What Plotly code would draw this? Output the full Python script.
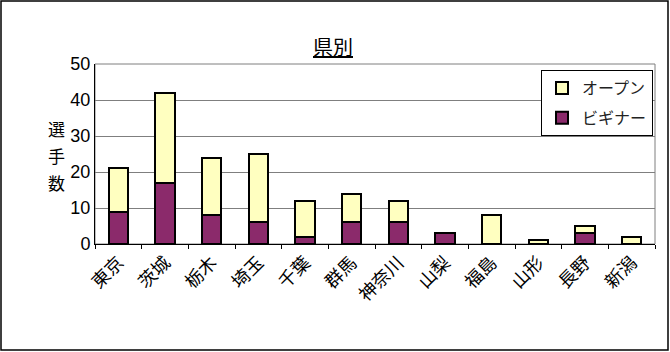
import plotly.graph_objects as go

prefectures = ["東京", "茨城", "栃木", "埼玉", "千葉", "群馬", "神奈川", "山梨", "福島", "山形", "長野", "新潟"]
beginner = [9, 17, 8, 6, 2, 6, 6, 3, 0, 0, 3, 0]
open_ = [12, 25, 16, 19, 10, 8, 6, 0, 8, 1, 2, 2]
y_ticks = [0, 10, 20, 30, 40, 50]
y_title = ["選", "手", "数"]

W, H = 670, 352
L, R, T, B = 95, 15, 64, 108
pw, ph = W - L - R, H - T - B

def px(x):
    return (x - L) / pw

def py(y):
    return (H - B - y) / ph

jp = "Noto Sans CJK JP"

fig = go.Figure()
fig.add_trace(go.Bar(x=prefectures, y=beginner, name="ビギナー", legendgroup="b", legendrank=2,
                     marker=dict(color="#8B2A6B", line=dict(color="black", width=2)),
                     width=0.42))
fig.add_trace(go.Bar(x=prefectures, y=open_, name="オープン", legendgroup="o", legendrank=1,
                     marker=dict(color="#FFFFC0", line=dict(color="black", width=2)),
                     width=0.42))

fig.update_layout(
    width=W, height=H, barmode="stack",
    margin=dict(l=L, r=R, t=T, b=B),
    paper_bgcolor="white", plot_bgcolor="white",
    showlegend=True,
    legend=dict(traceorder="grouped", x=px(541), y=py(70), xanchor="left", yanchor="top",
                bordercolor="black", borderwidth=1, bgcolor="white",
                font=dict(family=jp, size=16, color="#222"),
                itemwidth=30, tracegroupgap=6),
    xaxis=dict(tickangle=-45, tickfont=dict(family=jp, size=18, color="black"),
               ticks="outside", tickson="boundaries", ticklen=4, tickcolor="black",
               showline=True, linecolor="black", linewidth=1, showgrid=False),
    yaxis=dict(range=[0, 50], tickvals=y_ticks, tickfont=dict(family="Liberation Sans", size=18, color="black"),
               showline=True, linecolor="black", linewidth=1, ticks="",
               showgrid=True, gridcolor="#7f7f7f", gridwidth=1, zeroline=False),
)

# plot area frame (top/right grey)
fig.add_shape(type="rect", xref="paper", yref="paper", x0=0, x1=1, y0=0, y1=1,
              line=dict(color="#7f7f7f", width=1), layer="below")
# outer frame
fig.add_shape(type="rect", xref="paper", yref="paper", x0=px(1), x1=px(668), y0=py(350), y1=py(1),
              line=dict(color="black", width=1.5))

fig.add_annotation(text="<u>県別</u>", xref="paper", yref="paper", x=px(333), y=py(30),
                   showarrow=False, font=dict(family=jp, size=20, color="black"))
for i, ch in enumerate(y_title):
    fig.add_annotation(text=ch, xref="paper", yref="paper", x=px(46), y=py(128 + 27 * i),
                       showarrow=False, font=dict(family=jp, size=17, color="black"))

fig.write_html("out.html")
